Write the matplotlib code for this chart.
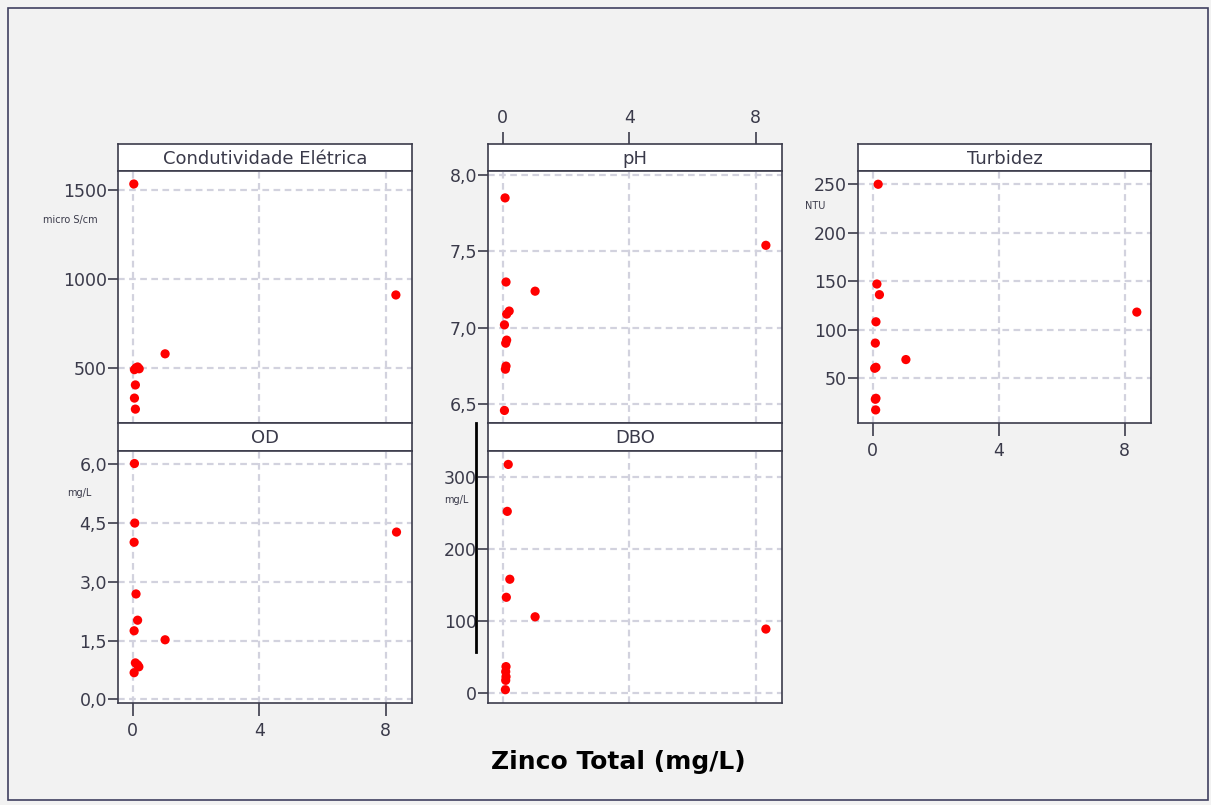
import numpy as np
import matplotlib.pyplot as plt
from matplotlib.lines import Line2D
from matplotlib.patches import Rectangle
from matplotlib.ticker import FuncFormatter

plt.rcParams['font.family'] = ['DejaVu Sans']

# Zinco total (mg/L) vs. water quality parameters
zinco_ce = [0.03, 0.05, 0.10, 0.15, 0.20, 0.08, 0.05, 0.08, 1.02, 8.32]
ce = [1534, 490, 500, 505, 495, 404, 330, 268, 579, 910]

zinco_ph = [0.07, 8.32, 0.10, 1.02, 0.20, 0.12, 0.05, 0.12, 0.09, 0.10, 0.08, 0.05]
ph = [7.85, 7.54, 7.30, 7.24, 7.11, 7.09, 7.02, 6.92, 6.90, 6.75, 6.73, 6.46]

zinco_turb = [0.17, 0.13, 0.21, 0.10, 0.08, 0.10, 0.06, 1.05, 8.38, 0.10, 0.08, 0.09]
turb = [250, 147, 136, 108, 86, 61, 60, 69, 118, 29, 28, 17]

zinco_od = [0.05, 0.06, 0.04, 0.10, 0.15, 0.04, 1.02, 0.08, 0.19, 0.04, 0.15, 8.34]
od = [6.02, 4.50, 4.01, 2.69, 2.02, 1.75, 1.52, 0.93, 0.83, 0.68, 0.88, 4.27]

zinco_dbo = [0.17, 0.14, 0.22, 0.11, 1.02, 8.32, 0.10, 0.09, 0.10, 0.09, 0.08]
dbo = [317, 252, 158, 133, 106, 89, 37, 30, 23, 18, 5]

x_ticks = [0, 4, 8]

W, H = 1211, 805
BG = '#f2f2f2'
EDGE = '#3c3c4c'
TXT = '#3a3a4a'
GRID = '#d2d2de'

fig = plt.figure(figsize=(W / 100, H / 100), dpi=100, facecolor=BG)
fig.add_artist(Rectangle((8 / W, 1 - 800 / H), 1200 / W, 792 / H,
                         transform=fig.transFigure, fill=False,
                         edgecolor='#404060', lw=1.2))


def px_rect(x0, y0, x1, y1):
    return [x0 / W, 1 - y1 / H, (x1 - x0) / W, (y1 - y0) / H]


def comma(v, pos):
    return f'{v:.1f}'.replace('.', ',')


def panel(x0, x1, y_strip, y_top, y_bot, title, xs, ys, yticks, ylim,
          unit, unit_xy, fmt=None, xbottom=False, xtop=False):
    st = fig.add_axes(px_rect(x0, y_strip, x1, y_top))
    st.set_facecolor('white')
    st.set_xticks([])
    st.set_yticks([])
    for s in st.spines.values():
        s.set_color(EDGE)
        s.set_linewidth(1.2)
    st.text(0.5, 0.45, title, ha='center', va='center', fontsize=13,
            color=TXT, transform=st.transAxes)

    ax = fig.add_axes(px_rect(x0, y_top, x1, y_bot))
    ax.set_facecolor('white')
    ax.scatter(xs, ys, s=44, color='#ff0000', edgecolors='none', zorder=3)
    ax.set_xlim(-0.47, 8.83)
    ax.set_ylim(*ylim)
    ax.set_xticks(x_ticks)
    ax.set_yticks(yticks)
    if fmt is not None:
        ax.yaxis.set_major_formatter(FuncFormatter(fmt))
    ax.grid(True, color=GRID, lw=1.6, ls=(0, (3, 2)))
    ax.set_axisbelow(True)
    for s in ax.spines.values():
        s.set_color(EDGE)
        s.set_linewidth(1.2)
    ax.tick_params(axis='y', direction='out', length=7, width=1.2,
                   color=EDGE, labelcolor=TXT, labelsize=12.5, pad=1)
    ax.tick_params(axis='x', direction='out', length=9, width=1.2,
                   color=EDGE, labelcolor=TXT, labelsize=12.5, pad=5,
                   bottom=xbottom, labelbottom=xbottom,
                   top=False, labeltop=False)
    if xtop:
        # ticks for the top panel sit above the strip
        tx = fig.add_axes(px_rect(x0, y_strip, x1, y_strip + 1))
        tx.set_xlim(-0.47, 8.83)
        tx.set_xticks(x_ticks)
        tx.set_yticks([])
        for s in tx.spines.values():
            s.set_visible(False)
        tx.patch.set_alpha(0)
        tx.tick_params(axis='x', direction='out', length=9, width=1.2,
                       color=EDGE, labelcolor=TXT, labelsize=12.5, pad=3,
                       bottom=False, labelbottom=False,
                       top=True, labeltop=True)
    fig.text(unit_xy[0] / W, 1 - unit_xy[1] / H, unit, fontsize=7,
             color=TXT, ha='center', va='center')
    return ax


panel(118, 412, 144, 171, 423, 'Condutividade Elétrica', zinco_ce, ce,
      [500, 1000, 1500], (190, 1607), 'micro S/cm', (70, 220))
panel(118, 412, 423, 451, 703, 'OD', zinco_od, od,
      [0, 1.5, 3, 4.5, 6], (-0.094, 6.34), 'mg/L', (79, 493),
      fmt=comma, xbottom=True)
panel(488, 782, 144, 171, 423, 'pH', zinco_ph, ph,
      [6.5, 7.0, 7.5, 8.0], (6.378, 8.026), '', (0, 0),
      fmt=comma, xtop=True)
panel(488, 782, 423, 451, 703, 'DBO', zinco_dbo, dbo,
      [0, 100, 200, 300], (-13.4, 335.6), 'mg/L', (456, 500))
panel(858, 1151, 144, 171, 423, 'Turbidez', zinco_turb, turb,
      [50, 100, 150, 200, 250], (3.5, 263.7), 'NTU', (815, 206),
      xbottom=True)

# stray vertical rule beside the DBO panel
fig.add_artist(Line2D([476 / W, 476 / W], [1 - 423 / H, 1 - 652 / H],
                      transform=fig.transFigure, color='black', lw=2))

fig.text(618 / W, 1 - 762 / H, 'Zinco Total (mg/L)', fontsize=18,
         fontweight='bold', color='black', ha='center', va='center')

fig.savefig('out.png', dpi=100, facecolor=BG)
